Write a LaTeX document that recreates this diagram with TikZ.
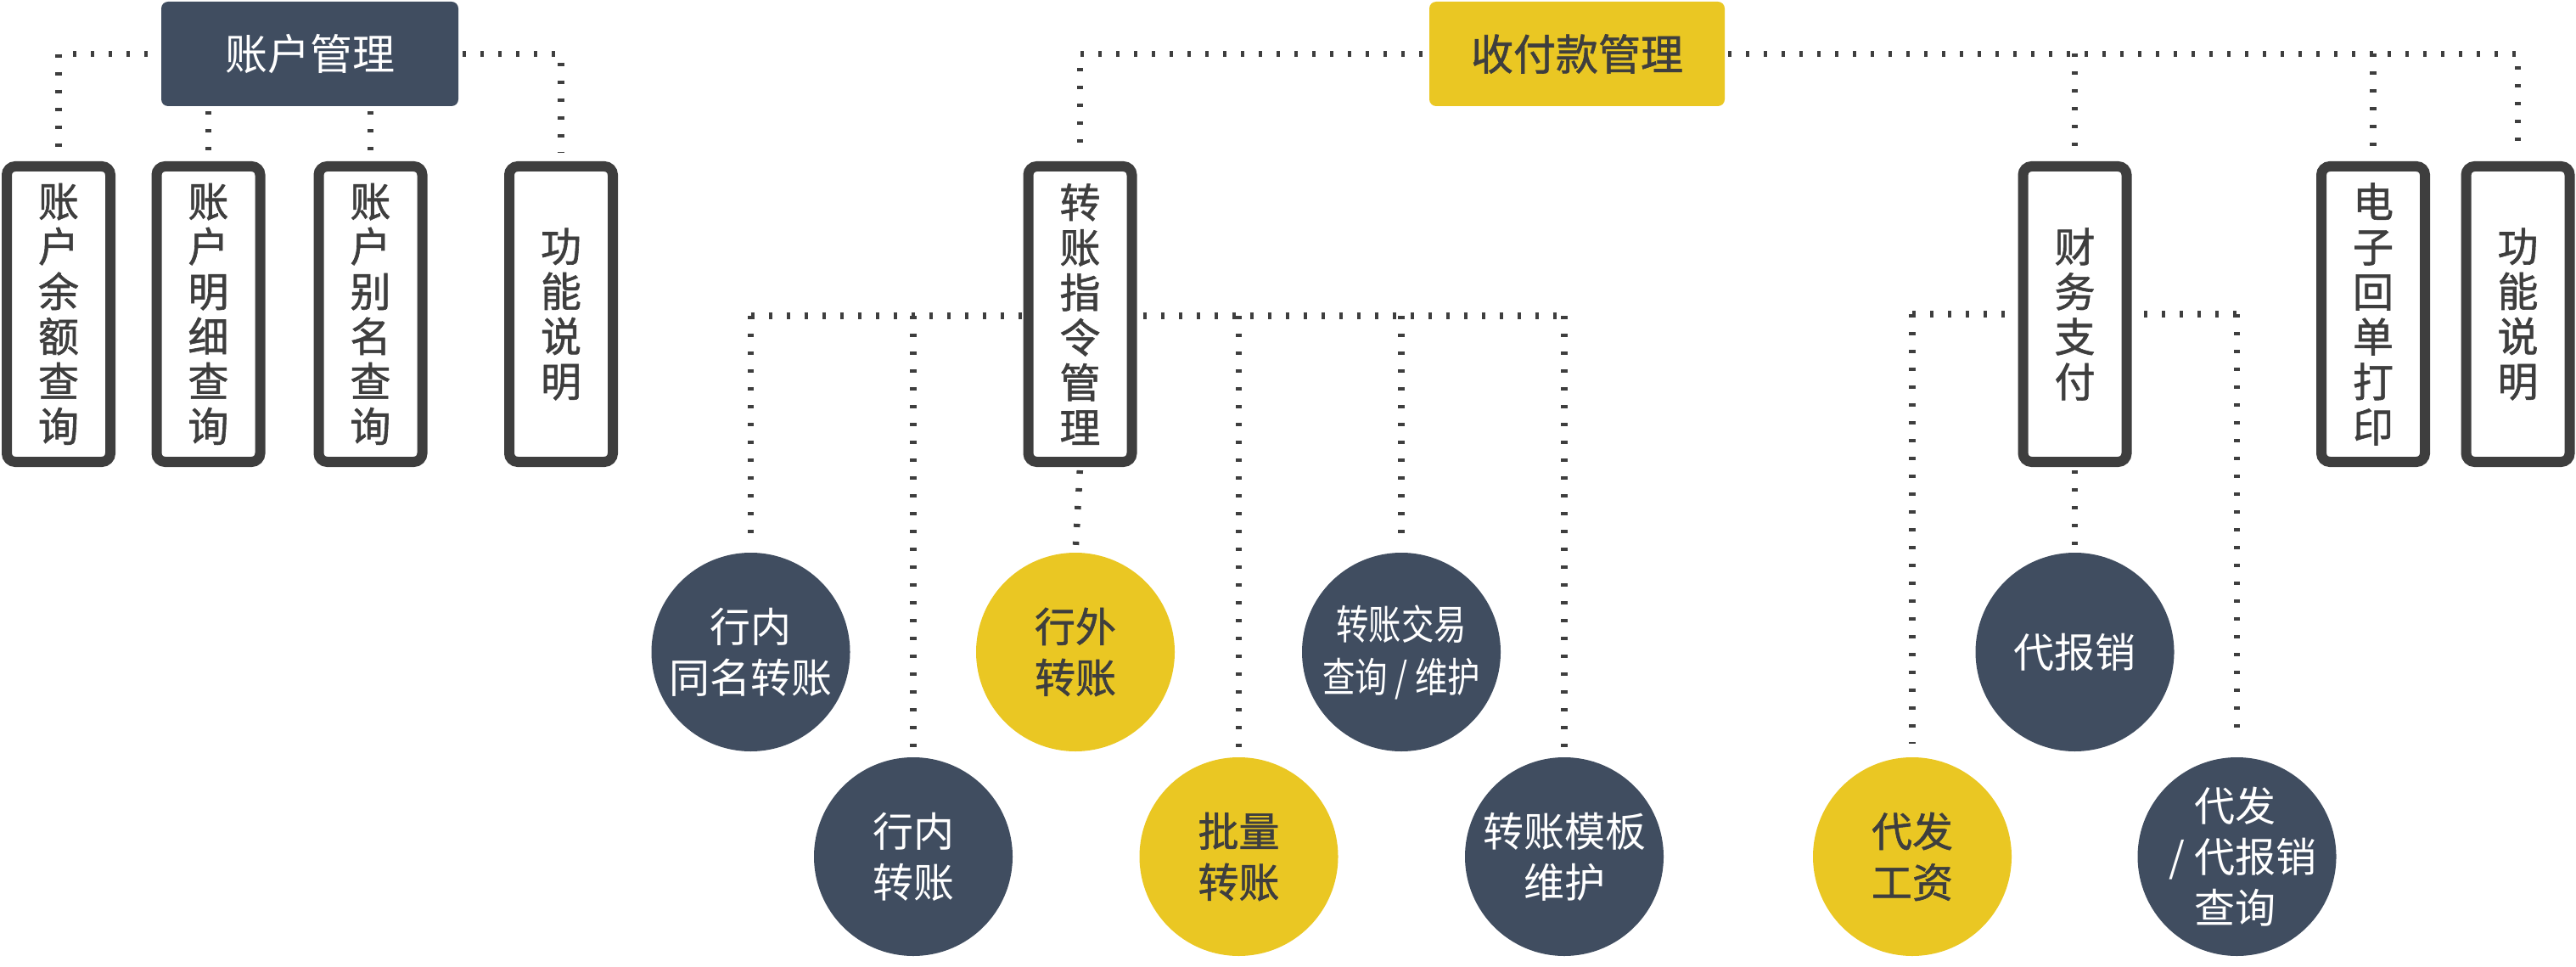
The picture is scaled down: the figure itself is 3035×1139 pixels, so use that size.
\documentclass[tikz,border=0pt]{standalone}
\usepackage{fontspec}
\usetikzlibrary{backgrounds}
\newfontfamily\cjk{Noto Sans CJK SC}
\newfontfamily\cjkb[FakeBold=1.2]{Noto Sans CJK SC}
\newfontfamily\cjkn[FakeStretch=0.8]{Noto Sans CJK SC}
\definecolor{navy}{HTML}{404D60}
\definecolor{gold}{HTML}{EAC723}
\definecolor{ink}{HTML}{3E3E3E}
\begin{document}
\begin{tikzpicture}[x=1pt,y=-1pt,
  topbox/.style={rounded corners=8pt, minimum width=350pt, minimum height=123pt, inner sep=0pt, font=\cjk\fontsize{50}{52}\selectfont},
  vbox/.style={draw=ink, line width=12pt, fill=white, rounded corners=10pt, minimum width=122pt, minimum height=348pt, inner sep=0pt, align=center, text=ink, font=\cjkb\fontsize{48}{53}\selectfont},
  bubble/.style={circle, minimum size=234pt, inner sep=0pt, align=center, font=\cjk\fontsize{48}{60}\selectfont},
  navyc/.style={bubble, fill=navy, text=white},
  goldc/.style={bubble, fill=gold, text=ink, font=\cjkb\fontsize{48}{60}\selectfont},
  dotline/.style={draw=ink, line width=7.5pt, dash pattern=on 4pt off 17pt}
]
\useasboundingbox (0,0) rectangle (3035,1139);

% top level
\node[topbox, fill=navy, text=white] (am) at (365,63.5) {账户管理};
\node[topbox, fill=gold, text=ink, minimum width=348pt, font=\cjkb\fontsize{50}{52}\selectfont] (pm) at (1858,63.5) {收付款管理};

% vertical boxes
\node[vbox] (b1) at (69,370) {账\\户\\余\\额\\查\\询};
\node[vbox] (b2) at (245.5,370) {账\\户\\明\\细\\查\\询};
\node[vbox] (b3) at (436.5,370) {账\\户\\别\\名\\查\\询};
\node[vbox] (b4) at (661,370) {功\\能\\说\\明};
\node[vbox] (t1) at (1272.5,370) {转\\账\\指\\令\\管\\理};
\node[vbox] (t2) at (2444.5,370) {财\\务\\支\\付};
\node[vbox] (t3) at (2796,370) {电\\子\\回\\单\\打\\印};
\node[vbox] (t4) at (2966.5,370) {功\\能\\说\\明};

% circles
\node[navyc] (c1) at (884.5,768) {行内\\同名转账};
\node[navyc] (c2) at (1076,1009) {行内\\转账};
\node[goldc] (c3) at (1267,768) {行外\\转账};
\node[goldc] (c4) at (1459.5,1009) {批量\\转账};
\node[navyc, font=\cjkn\fontsize{48}{62}\selectfont] (c5) at (1651,768) {转账交易\\查询 / 维护};
\node[navyc] (c6) at (1843,1009) {转账模板\\维护};
\node[navyc] (c7) at (2444.5,768) {代报销};
\node[goldc] (c8) at (2253,1009) {代发\\工资};
\node[navyc] (c9) at (2635.5,1009) {};
\node[text=white, align=left, inner sep=0pt, font=\cjk\fontsize{48}{60}\selectfont] (c9t) at ([xshift=22pt]c9.center) {代发\\\llap{/ }代报销\\查询};

\coordinate (h1) at (1272.5,372);
\coordinate (h2) at (2444.5,370);

\begin{scope}[on background layer]
  % 账户管理
  \draw[dotline, shorten >=4pt] ([xshift=-16pt]am.west) -| (b1.north);
  \draw[dotline, shorten >=10pt] ([xshift=5pt]am.east) -| (b4.north);
  \draw[dotline, shorten <=6pt, shorten >=10pt] (am.south -| b2.north) -- (b2.north);
  \draw[dotline, shorten <=6pt, shorten >=10pt] (am.south -| b3.north) -- (b3.north);
  % 收付款管理
  \draw[dotline, shorten >=10pt] ([xshift=-8pt]pm.west) -| (t1.north);
  \draw[dotline, shorten >=16pt] ([xshift=4pt]pm.east) -| (t4.north);
  \draw[dotline, shorten >=10pt] (pm.east -| t2.north) -- (t2.north);
  \draw[dotline, shorten >=10pt] (pm.east -| t3.north) -- (t3.north);
  % 转账指令管理
  \draw[dotline] (c1.north |- h1) -- (c6.north |- h1);
  \draw[dotline, shorten >=6pt] (c1.north |- h1) -- (c1.north);
  \draw[dotline, shorten >=6pt] (c2.north |- h1) -- (c2.north);
  \draw[dotline, shorten >=6pt] (c4.north |- h1) -- (c4.north);
  \draw[dotline, shorten >=12pt] (c5.north |- h1) -- (c5.north);
  \draw[dotline, shorten >=12pt] (c6.north |- h1) -- (c6.north);
  \draw[dotline, shorten <=4pt, shorten >=2pt] (t1.south) -- (c3.north);
  % 财务支付
  \draw[dotline] (c8.north |- h2) -- (c9.north |- h2);
  \draw[dotline, shorten >=16pt] (c8.north |- h2) -- (c8.north);
  \draw[dotline, shorten >=34pt] (c9.north |- h2) -- (c9.north);
  \draw[dotline, shorten <=4pt, shorten >=4pt] (t2.south) -- (c7.north);
\end{scope}
\end{tikzpicture}
\end{document}
